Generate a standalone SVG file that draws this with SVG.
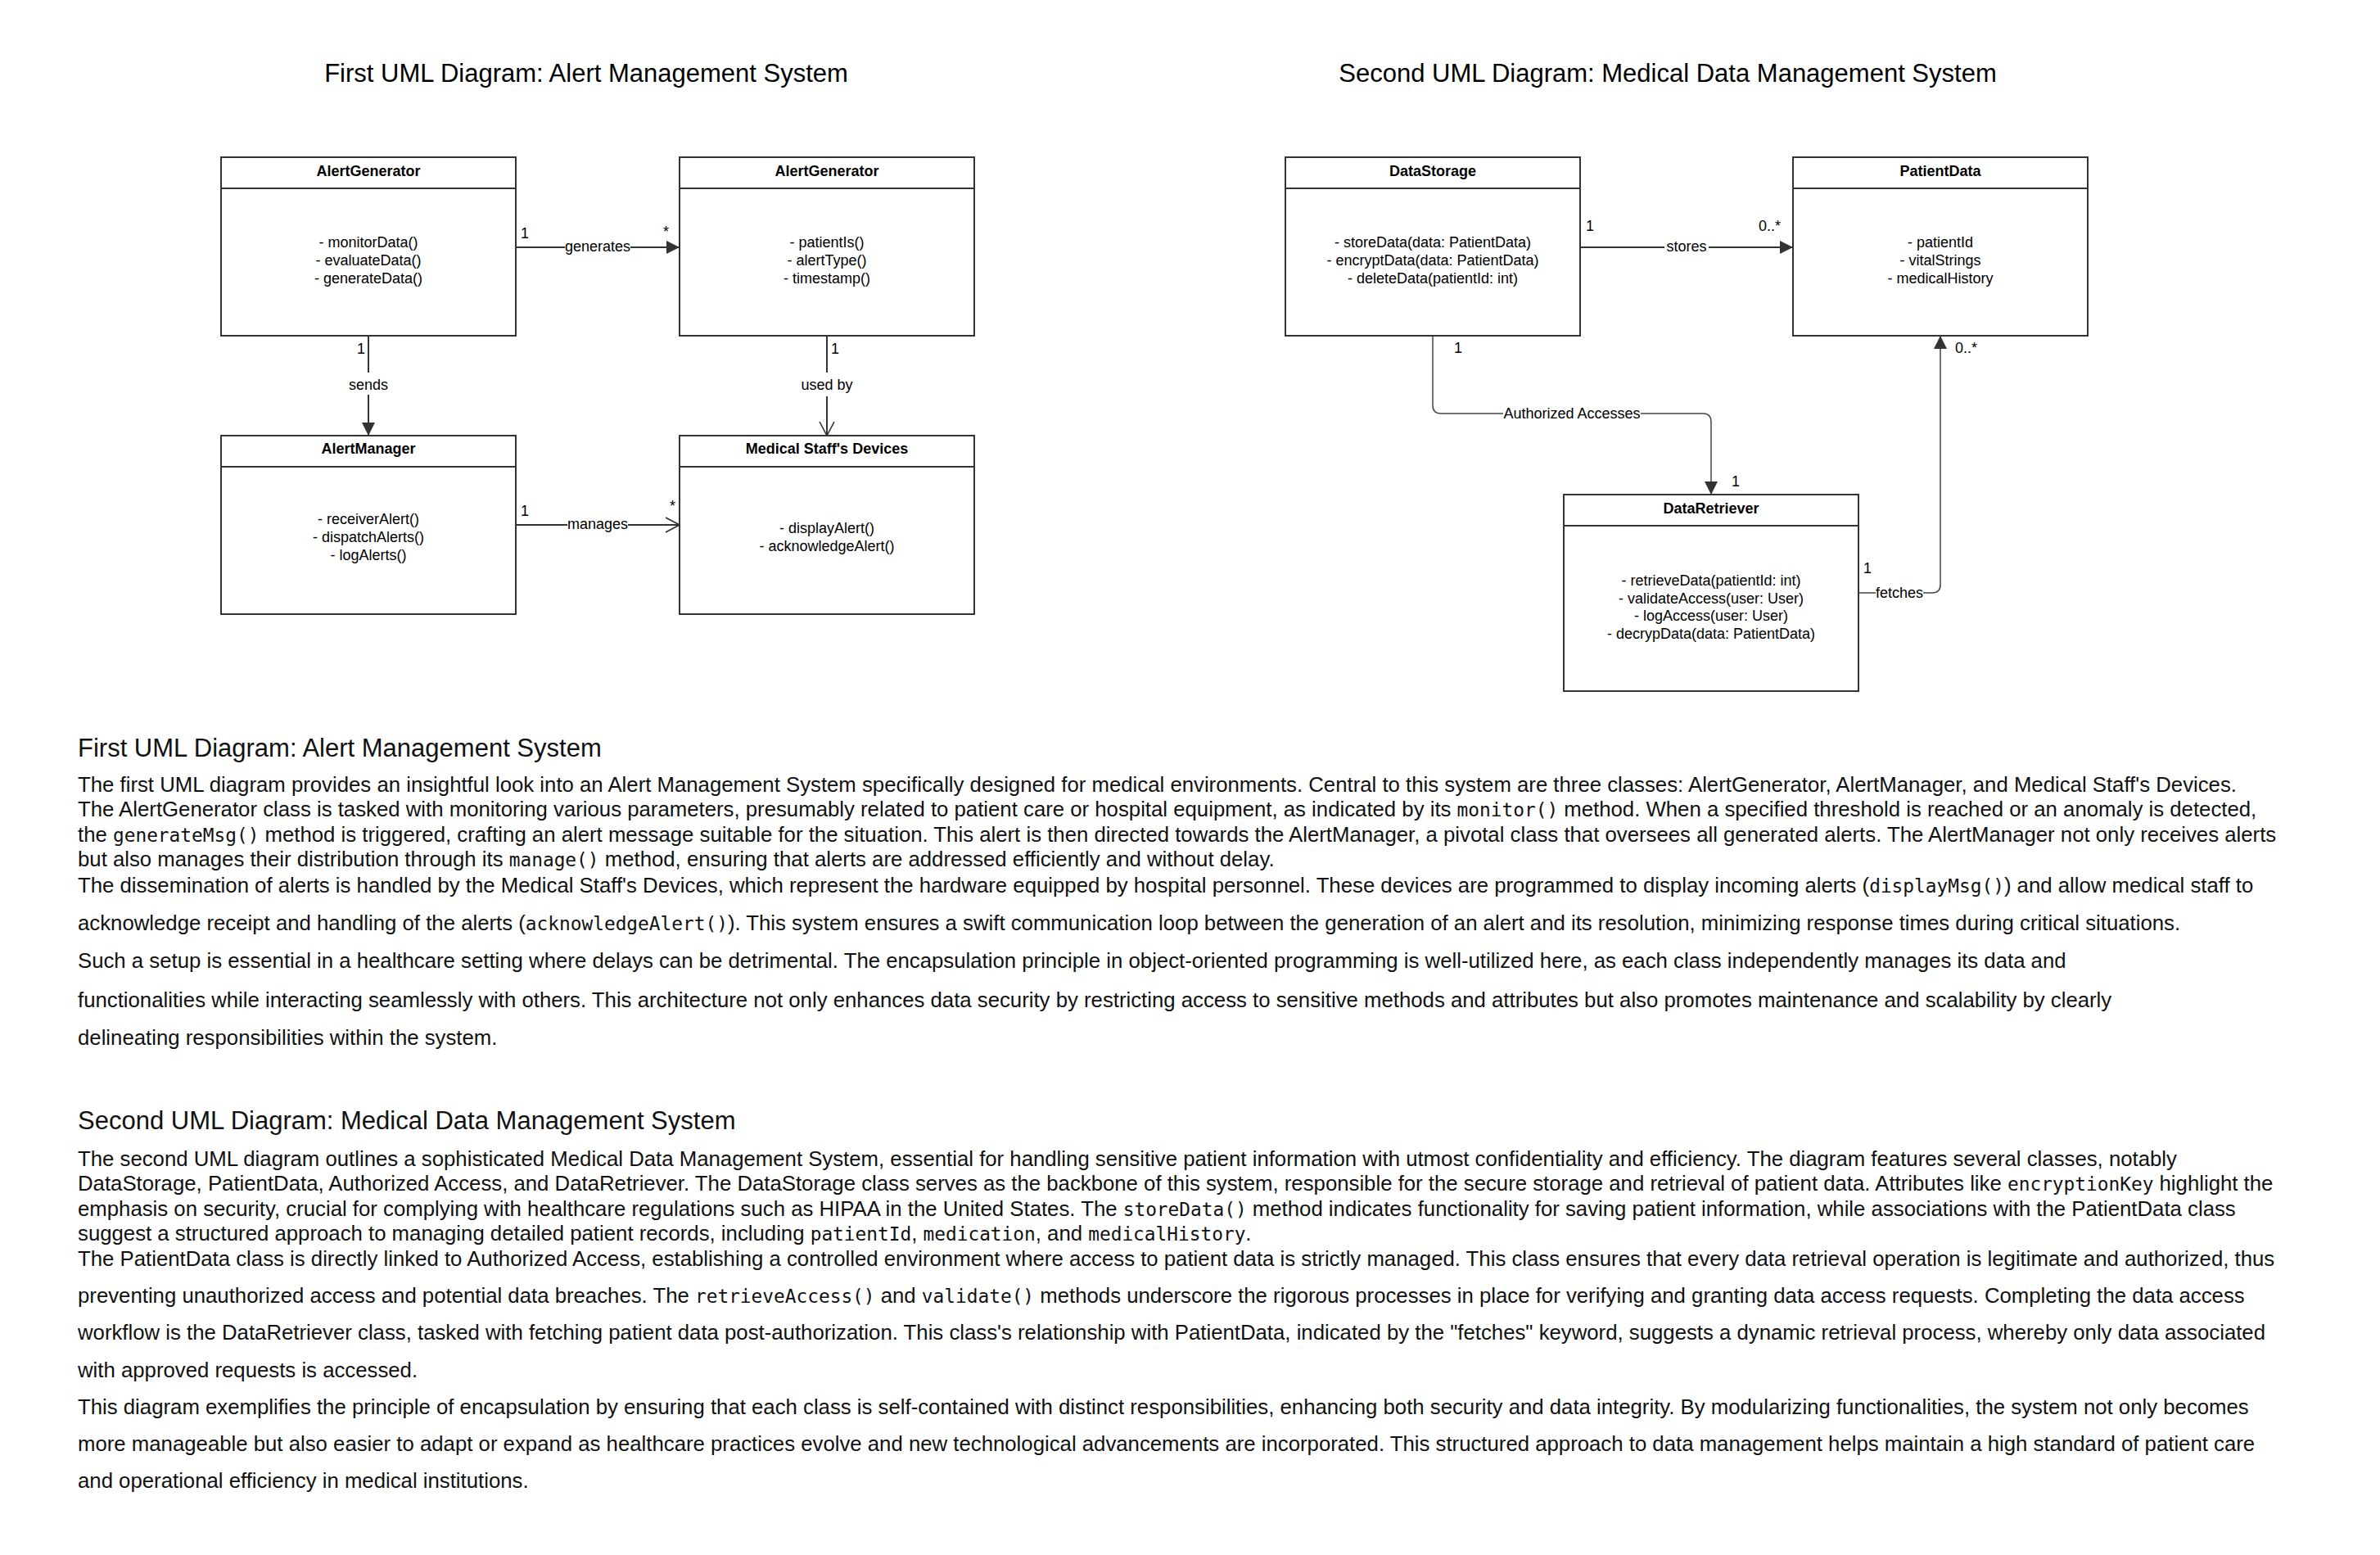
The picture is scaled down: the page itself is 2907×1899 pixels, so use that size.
<svg xmlns="http://www.w3.org/2000/svg" width="2907" height="1899" viewBox="0 0 2907 1899">
<style>
.box{fill:#fff;stroke:#333;stroke-width:2}
.hdr{font-family:"Liberation Sans",Arial,sans-serif;font-weight:bold;font-size:18px;text-anchor:middle;fill:#000}
.mth{font-family:"Liberation Sans",Arial,sans-serif;font-size:18px;text-anchor:middle;fill:#000}
.lbl{font-family:"Liberation Sans",Arial,sans-serif;font-size:18px;fill:#000}
.mid{text-anchor:middle}
.end{text-anchor:end}
.conn{fill:none;stroke:#333;stroke-width:2}
.thin{stroke-width:1.5;stroke:#444}
.bg{fill:#fff}
.title{font-family:"Liberation Sans",Arial,sans-serif;font-size:31px;text-anchor:middle;fill:#000}
.h{font-family:"Liberation Sans",Arial,sans-serif;font-size:31px;fill:#111}
.p{font-family:"Liberation Sans",Arial,sans-serif;font-size:25.75px;fill:#111}
.c{font-family:"DejaVu Sans Mono","Liberation Mono",monospace;font-size:22.8px}
</style>
<defs>
<marker id="fill" viewBox="0 0 16 16" refX="16" refY="8" markerWidth="16" markerHeight="16" markerUnits="userSpaceOnUse" orient="auto"><path d="M0,0 L16,8 L0,16 z" fill="#333"/></marker>
<marker id="open" viewBox="0 0 18 20" refX="17" refY="10" markerWidth="18" markerHeight="20" markerUnits="userSpaceOnUse" orient="auto"><path d="M0,1 L17,10 L0,19" fill="none" stroke="#333" stroke-width="1.6"/></marker>
</defs>
<rect width="2907" height="1899" fill="#fff"/>

<text class="title" x="716" y="100">First UML Diagram: Alert Management System</text>
<text class="title" x="2037" y="100">Second UML Diagram: Medical Data Management System</text>

<g id="connectors">
<path class="conn" d="M630,302 H830" marker-end="url(#fill)"/>
<path class="conn" d="M450,410 V532" marker-end="url(#fill)"/>
<path class="conn" d="M1010,410 V532" marker-end="url(#open)"/>
<path class="conn" d="M630,641 H830" marker-end="url(#open)"/>
<path class="conn" d="M1930,302 H2190" marker-end="url(#fill)"/>
<path class="conn thin" d="M1750,410 V495 Q1750,505 1760,505 H2080 Q2090,505 2090,515 V604" marker-end="url(#fill)"/>
<path class="conn thin" d="M2270,724 H2360 Q2370,724 2370,714 V410" marker-end="url(#fill)"/>
<rect class="bg" x="690" y="292" width="80" height="18"/>
<text class="lbl mid" x="730" y="307">generates</text>
<rect class="bg" x="425" y="455" width="50" height="27"/>
<text class="lbl mid" x="450" y="476">sends</text>
<rect class="bg" x="978" y="455" width="64" height="29"/>
<text class="lbl mid" x="1010" y="476">used by</text>
<rect class="bg" x="693" y="631" width="74" height="18"/>
<text class="lbl mid" x="730" y="646">manages</text>
<rect class="bg" x="2033" y="292" width="54" height="18"/>
<text class="lbl mid" x="2060" y="307">stores</text>
<rect class="bg" x="1836" y="495" width="168" height="18"/>
<text class="lbl mid" x="1920" y="511">Authorized Accesses</text>
<rect class="bg" x="2291" y="714" width="58" height="18"/>
<text class="lbl mid" x="2320" y="730">fetches</text>
<text class="lbl" x="636" y="291">1</text>
<text class="lbl end" x="817" y="289">*</text>
<text class="lbl end" x="446" y="432">1</text>
<text class="lbl" x="1015" y="432">1</text>
<text class="lbl" x="636" y="630">1</text>
<text class="lbl end" x="825" y="624">*</text>
<text class="lbl" x="1937" y="282">1</text>
<text class="lbl end" x="2175" y="282">0..*</text>
<text class="lbl" x="1776" y="431">1</text>
<text class="lbl" x="2388" y="431">0..*</text>
<text class="lbl" x="2115" y="594">1</text>
<text class="lbl" x="2276" y="700">1</text>
</g>

<g id="AlertGenerator1">
<rect class="box" x="270" y="192" width="360" height="218"/>
<line class="conn" x1="270" y1="230" x2="630" y2="230"/>
<text class="hdr" x="450" y="215">AlertGenerator</text>
<text class="mth" x="450" y="302">- monitorData()</text>
<text class="mth" x="450" y="324">- evaluateData()</text>
<text class="mth" x="450" y="346">- generateData()</text>
</g>
<g id="AlertGenerator2">
<rect class="box" x="830" y="192" width="360" height="218"/>
<line class="conn" x1="830" y1="230" x2="1190" y2="230"/>
<text class="hdr" x="1010" y="215">AlertGenerator</text>
<text class="mth" x="1010" y="302">- patientIs()</text>
<text class="mth" x="1010" y="324">- alertType()</text>
<text class="mth" x="1010" y="346">- timestamp()</text>
</g>
<g id="AlertManager">
<rect class="box" x="270" y="532" width="360" height="218"/>
<line class="conn" x1="270" y1="570" x2="630" y2="570"/>
<text class="hdr" x="450" y="554">AlertManager</text>
<text class="mth" x="450" y="640">- receiverAlert()</text>
<text class="mth" x="450" y="662">- dispatchAlerts()</text>
<text class="mth" x="450" y="684">- logAlerts()</text>
</g>
<g id="MedicalStaffDevices">
<rect class="box" x="830" y="532" width="360" height="218"/>
<line class="conn" x1="830" y1="570" x2="1190" y2="570"/>
<text class="hdr" x="1010" y="554">Medical Staff's Devices</text>
<text class="mth" x="1010" y="651">- displayAlert()</text>
<text class="mth" x="1010" y="673">- acknowledgeAlert()</text>
</g>

<g id="DataStorage">
<rect class="box" x="1570" y="192" width="360" height="218"/>
<line class="conn" x1="1570" y1="230" x2="1930" y2="230"/>
<text class="hdr" x="1750" y="215">DataStorage</text>
<text class="mth" x="1750" y="302">- storeData(data: PatientData)</text>
<text class="mth" x="1750" y="324">- encryptData(data: PatientData)</text>
<text class="mth" x="1750" y="346">- deleteData(patientId: int)</text>
</g>
<g id="PatientData">
<rect class="box" x="2190" y="192" width="360" height="218"/>
<line class="conn" x1="2190" y1="230" x2="2550" y2="230"/>
<text class="hdr" x="2370" y="215">PatientData</text>
<text class="mth" x="2370" y="302">- patientId</text>
<text class="mth" x="2370" y="324">- vitalStrings</text>
<text class="mth" x="2370" y="346">- medicalHistory</text>
</g>
<g id="DataRetriever">
<rect class="box" x="1910" y="604" width="360" height="240"/>
<line class="conn" x1="1910" y1="642" x2="2270" y2="642"/>
<text class="hdr" x="2090" y="627">DataRetriever</text>
<text class="mth" x="2090" y="715">- retrieveData(patientId: int)</text>
<text class="mth" x="2090" y="737">- validateAccess(user: User)</text>
<text class="mth" x="2090" y="758">- logAccess(user: User)</text>
<text class="mth" x="2090" y="780">- decrypData(data: PatientData)</text>
</g>

<g id="text1">
<text class="h" x="95" y="924">First UML Diagram: Alert Management System</text>
<text class="p" x="95" y="967">The first UML diagram provides an insightful look into an Alert Management System specifically designed for medical environments. Central to this system are three classes: AlertGenerator, AlertManager, and Medical Staff's Devices.</text>
<text class="p" x="95" y="997">The AlertGenerator class is tasked with monitoring various parameters, presumably related to patient care or hospital equipment, as indicated by its <tspan class="c">monitor()</tspan> method. When a specified threshold is reached or an anomaly is detected,</text>
<text class="p" x="95" y="1028">the <tspan class="c">generateMsg()</tspan> method is triggered, crafting an alert message suitable for the situation. This alert is then directed towards the AlertManager, a pivotal class that oversees all generated alerts. The AlertManager not only receives alerts</text>
<text class="p" x="95" y="1058">but also manages their distribution through its <tspan class="c">manage()</tspan> method, ensuring that alerts are addressed efficiently and without delay.</text>
<text class="p" x="95" y="1090">The dissemination of alerts is handled by the Medical Staff's Devices, which represent the hardware equipped by hospital personnel. These devices are programmed to display incoming alerts (<tspan class="c">displayMsg()</tspan>) and allow medical staff to</text>
<text class="p" x="95" y="1136">acknowledge receipt and handling of the alerts (<tspan class="c">acknowledgeAlert()</tspan>). This system ensures a swift communication loop between the generation of an alert and its resolution, minimizing response times during critical situations.</text>
<text class="p" x="95" y="1182">Such a setup is essential in a healthcare setting where delays can be detrimental. The encapsulation principle in object-oriented programming is well-utilized here, as each class independently manages its data and</text>
<text class="p" x="95" y="1230">functionalities while interacting seamlessly with others. This architecture not only enhances data security by restricting access to sensitive methods and attributes but also promotes maintenance and scalability by clearly</text>
<text class="p" x="95" y="1276">delineating responsibilities within the system.</text>
</g>

<g id="text2">
<text class="h" x="95" y="1379">Second UML Diagram: Medical Data Management System</text>
<text class="p" x="95" y="1424">The second UML diagram outlines a sophisticated Medical Data Management System, essential for handling sensitive patient information with utmost confidentiality and efficiency. The diagram features several classes, notably</text>
<text class="p" x="95" y="1454">DataStorage, PatientData, Authorized Access, and DataRetriever. The DataStorage class serves as the backbone of this system, responsible for the secure storage and retrieval of patient data. Attributes like <tspan class="c">encryptionKey</tspan> highlight the</text>
<text class="p" x="95" y="1485">emphasis on security, crucial for complying with healthcare regulations such as HIPAA in the United States. The <tspan class="c">storeData()</tspan> method indicates functionality for saving patient information, while associations with the PatientData class</text>
<text class="p" x="95" y="1515">suggest a structured approach to managing detailed patient records, including <tspan class="c">patientId</tspan>, <tspan class="c">medication</tspan>, and <tspan class="c">medicalHistory</tspan>.</text>
<text class="p" x="95" y="1546">The PatientData class is directly linked to Authorized Access, establishing a controlled environment where access to patient data is strictly managed. This class ensures that every data retrieval operation is legitimate and authorized, thus</text>
<text class="p" x="95" y="1591">preventing unauthorized access and potential data breaches. The <tspan class="c">retrieveAccess()</tspan> and <tspan class="c">validate()</tspan> methods underscore the rigorous processes in place for verifying and granting data access requests. Completing the data access</text>
<text class="p" x="95" y="1636">workflow is the DataRetriever class, tasked with fetching patient data post-authorization. This class's relationship with PatientData, indicated by the "fetches" keyword, suggests a dynamic retrieval process, whereby only data associated</text>
<text class="p" x="95" y="1682">with approved requests is accessed.</text>
<text class="p" x="95" y="1727">This diagram exemplifies the principle of encapsulation by ensuring that each class is self-contained with distinct responsibilities, enhancing both security and data integrity. By modularizing functionalities, the system not only becomes</text>
<text class="p" x="95" y="1772">more manageable but also easier to adapt or expand as healthcare practices evolve and new technological advancements are incorporated. This structured approach to data management helps maintain a high standard of patient care</text>
<text class="p" x="95" y="1817">and operational efficiency in medical institutions.</text>
</g>
</svg>
